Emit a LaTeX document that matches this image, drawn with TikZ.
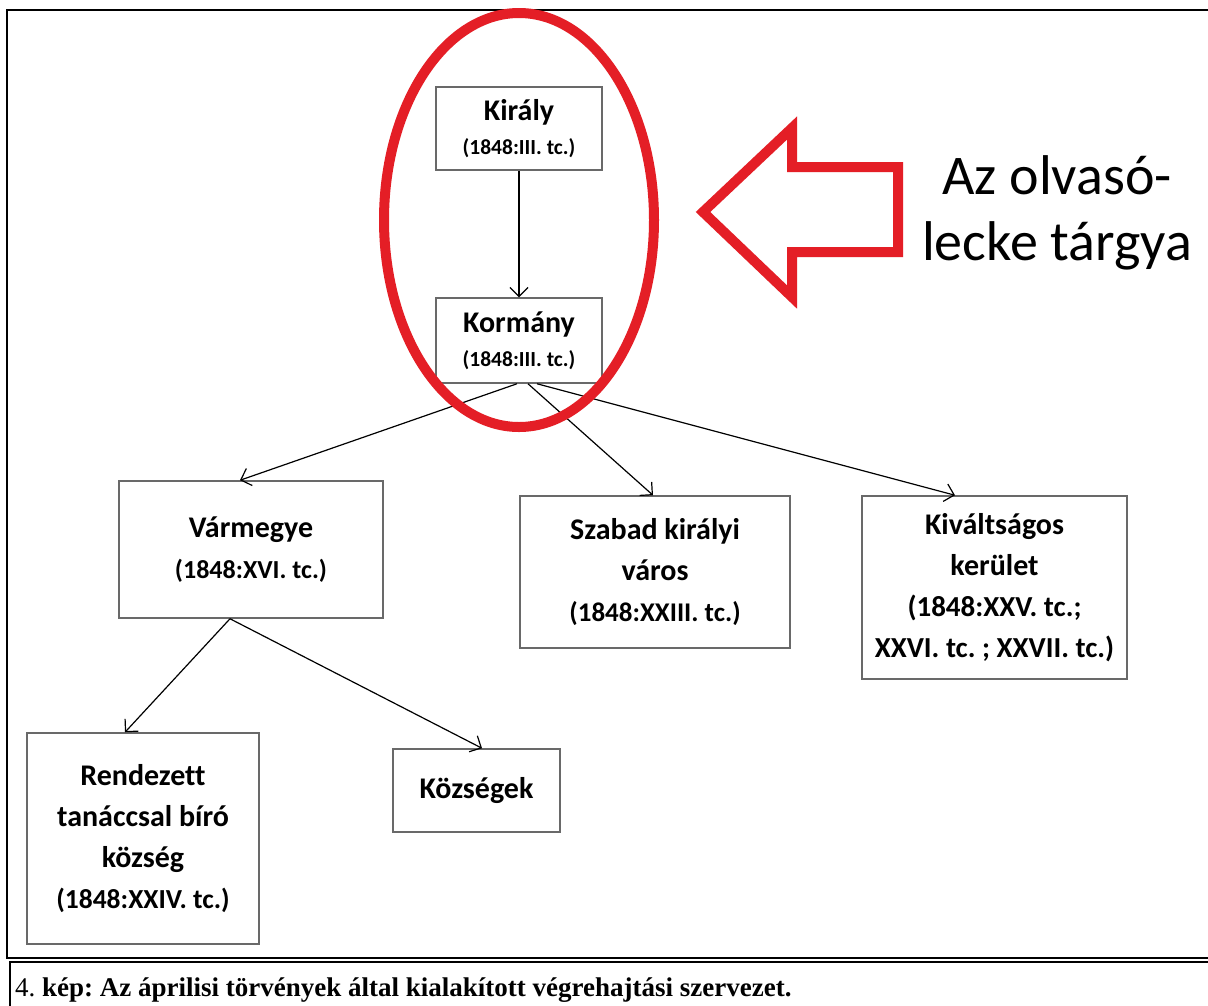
\documentclass[tikz,border=0pt]{standalone}
\usepackage{fontspec}
\setmainfont{Carlito}[Ligatures={NoCommon}]
\newfontfamily\capfont{Liberation Serif}
\usetikzlibrary{arrows.meta}
\definecolor{markred}{RGB}{228,30,38}
\definecolor{boxgray}{RGB}{105,105,105}
\newcommand\subsz[1]{\fontsize{#1}{41}\selectfont}
\frenchspacing
\tikzset{
  orgbox/.style={draw=boxgray, line width=1.5pt, align=center, inner sep=0pt,
    font=\bfseries\fontsize{30}{41}\selectfont},
  conn/.style={draw=black, line width=1.2pt, -{Straight Barb[length=9pt,width=18pt]}},
  frameline/.style={draw=black, line width=2.5pt},
  redline/.style={draw=markred, line width=10pt, line join=miter},
  bigtext/.style={anchor=base, inner sep=0pt, font=\fontsize{56}{66}\selectfont},
}
\begin{document}
\begin{tikzpicture}[x=1pt,y=-1pt]
\useasboundingbox (0,0) rectangle (1208,1005);
\clip (0,0) rectangle (1208,1005);
\fill[white] (0,0) rectangle (1208,1005);

% frames
\draw[frameline] (1300,10) -- (7,10) -- (7,958) -- (1300,958);
\draw[frameline, line width=2pt] (1300,962) -- (10,962) -- (10,1100);

% boxes
\node[orgbox, minimum width=166pt, minimum height=83pt, font=\bfseries\fontsize{30}{34}\selectfont] (kiraly) at (519,128.5)
  {Király\\{\subsz{21.5}(1848:III. tc.)}};
\node[orgbox, minimum width=166pt, minimum height=85pt, font=\bfseries\fontsize{30}{34}\selectfont] (korm) at (519,340.5)
  {Kormány\\{\subsz{21.5}(1848:III. tc.)}};
\node[orgbox, minimum width=264pt, minimum height=137pt] (varm) at (251,549.5)
  {Vármegye\\{\subsz{26}(1848:XVI. tc.)}};
\node[orgbox, minimum width=270pt, minimum height=152pt] (szab) at (655,572)
  {Szabad királyi\\város\\{\subsz{27}(1848:XXIII. tc.)}};
\node[orgbox, minimum width=265pt, minimum height=183pt] (kivalt) at (994.5,587.5)
  {Kiváltságos\\kerület\\{\subsz{29}(1848:XXV. tc.;}\\{\subsz{29}XXVI. tc. ; XXVII. tc.)}};
\node[orgbox, minimum width=232pt, minimum height=211pt] (rend) at (143,838.5)
  {Rendezett\\tanáccsal bíró\\község\\{\subsz{27.5}(1848:XXIV. tc.)}};
\node[orgbox, minimum width=167pt, minimum height=83pt] (kozs) at (476.5,790.5)
  {Községek};

% connectors
\draw[conn] (kiraly.south) -- (korm.north);
\draw[conn] ([xshift=-2pt]korm.south) -- ([xshift=-11pt]varm.north);
\draw[conn] ([xshift=9pt]korm.south) -- ([xshift=-2pt]szab.north);
\draw[conn] ([xshift=18pt]korm.south) -- ([xshift=-39.5pt]kivalt.north);
\draw[conn] ([xshift=-21pt]varm.south) -- ([xshift=-18pt]rend.north);
\draw[conn] ([xshift=-21pt]varm.south) -- ([xshift=5.5pt]kozs.north);

% red highlight
\draw[redline] (519,220) ellipse [x radius=135pt, y radius=207pt];
\draw[redline] (703,212) -- (792,128) -- (792,167) -- (898,167) -- (898,252)
  -- (792,252) -- (792,297) -- cycle;
\node[bigtext] (lbl1) at (1057,194) {Az olvasó-};
\node[bigtext] (lbl2) at (1057,260) {lecke tárgya};

% caption
\node[anchor=base west, inner sep=0pt, font=\capfont\fontsize{27}{30}\selectfont] (cap) at (15,996)
  {4. \textbf{kép: Az áprilisi törvények által kialakított végrehajtási szervezet.}};
\end{tikzpicture}
\end{document}
